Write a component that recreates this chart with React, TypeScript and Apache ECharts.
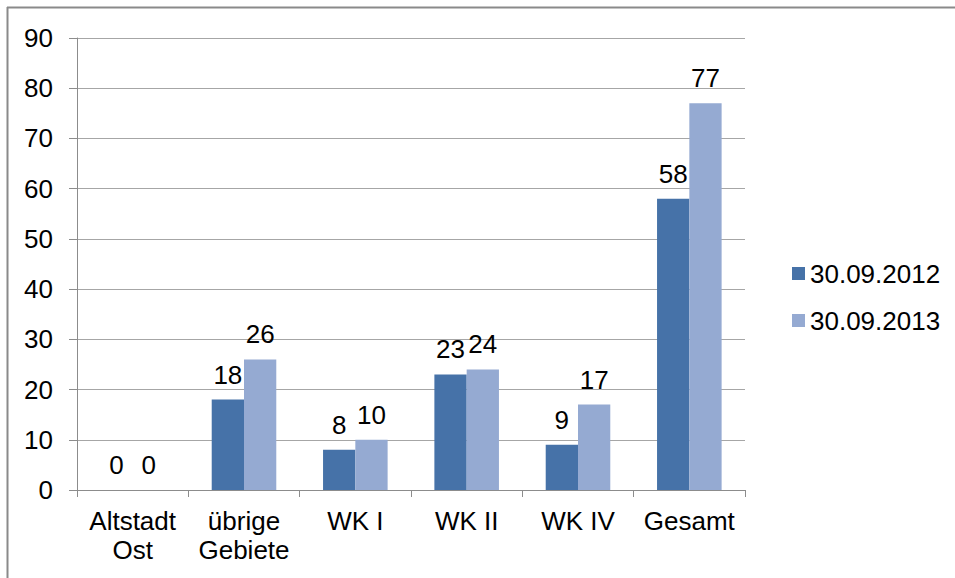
import React, { useEffect, useRef } from "react";
import * as echarts from "echarts";

const categories = ["Altstadt\nOst", "übrige\nGebiete", "WK I", "WK II", "WK IV", "Gesamt"];
const seriesNames = ["30.09.2012", "30.09.2013"];
const values2012 = [0, 18, 8, 23, 9, 58];
const values2013 = [0, 26, 10, 24, 17, 77];
const yTicks = { min: 0, max: 90, interval: 10 };

const FONT = "Liberation Sans, Arial, sans-serif";
const FS = 26;

export default function App() {
  const ref = useRef<HTMLDivElement>(null);
  useEffect(() => {
    if (!ref.current) return;
    const chart = echarts.init(ref.current, undefined, { renderer: "svg" });
    const label = {
      show: true,
      position: "top" as const,
      distance: 12,
      color: "#000",
      fontFamily: FONT,
      fontSize: FS,
    };
    chart.setOption({
      animation: false,
      backgroundColor: "#fff",
      textStyle: { fontFamily: FONT },
      graphic: [
        { type: "line", shape: { x1: 7, y1: 7.5, x2: 955, y2: 7.5 }, style: { stroke: "#8a8a8a", lineWidth: 2 } },
        { type: "line", shape: { x1: 7.5, y1: 7, x2: 7.5, y2: 578 }, style: { stroke: "#8a8a8a", lineWidth: 2 } },
      ],
      grid: { left: 77, right: 210, top: 38, bottom: 88, containLabel: false },
      legend: {
        orient: "vertical",
        left: 787,
        top: 254,
        icon: "rect",
        itemWidth: 13,
        itemHeight: 13,
        itemGap: 18,
        textStyle: { color: "#000", fontFamily: FONT, fontSize: FS, lineHeight: 29 },
        data: seriesNames,
      },
      xAxis: {
        type: "category",
        data: categories,
        axisLine: { lineStyle: { color: "#8c8c8c", width: 1 } },
        axisTick: { show: true, length: 7, lineStyle: { color: "#8c8c8c" } },
        axisLabel: { color: "#000", fontFamily: FONT, fontSize: FS, lineHeight: 29, margin: 16, interval: 0 },
        splitLine: { show: false },
      },
      yAxis: {
        type: "value",
        min: yTicks.min,
        max: yTicks.max,
        interval: yTicks.interval,
        axisLine: { show: true, lineStyle: { color: "#8c8c8c", width: 1 } },
        axisTick: { show: true, length: 8, lineStyle: { color: "#8c8c8c" } },
        axisLabel: { color: "#000", fontFamily: FONT, fontSize: FS, margin: 24 },
        splitLine: { show: true, lineStyle: { color: "#a6a6a6", width: 1 } },
      },
      series: [
        {
          name: seriesNames[0],
          type: "bar",
          data: values2012,
          itemStyle: { color: "#4672A8" },
          barGap: "0%",
          barCategoryGap: "42%",
          label,
        },
        {
          name: seriesNames[1],
          type: "bar",
          data: values2013,
          itemStyle: { color: "#95AAD2" },
          barGap: "0%",
          barCategoryGap: "42%",
          label,
        },
      ],
    });
    return () => chart.dispose();
  }, []);
  return (
    <div
      ref={ref}
      style={{ position: "fixed", left: 0, top: 0, width: 955, height: 578, background: "#fff" }}
    />
  );
}
